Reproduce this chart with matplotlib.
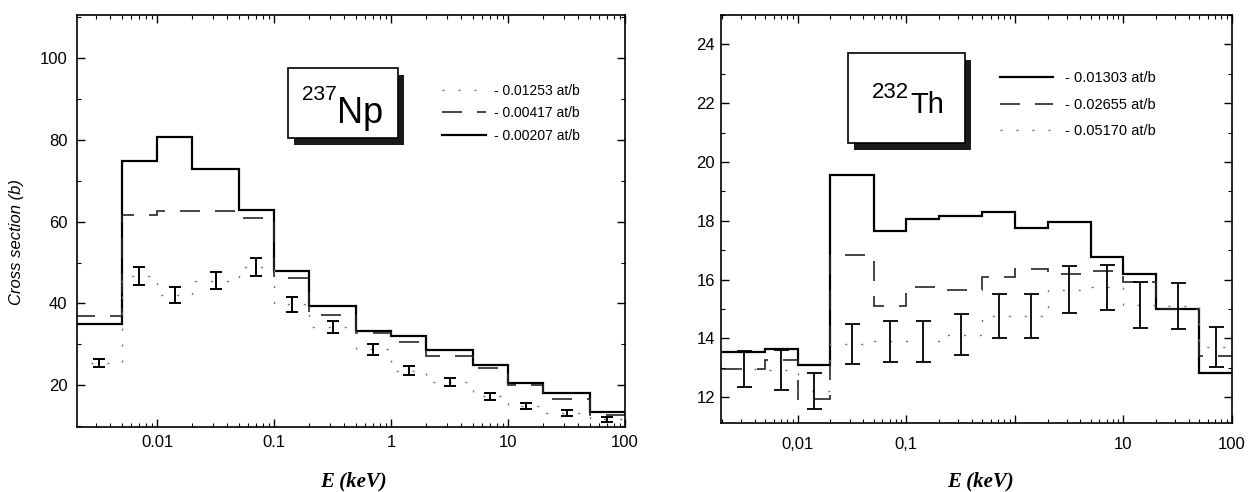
import numpy as np
import matplotlib
matplotlib.use("Agg")
import matplotlib.pyplot as plt
from matplotlib.lines import Line2D
from matplotlib.patches import Rectangle
from matplotlib.ticker import LogLocator, NullFormatter, FixedLocator, FixedFormatter, MultipleLocator

plt.rcParams['font.family'] = ['Liberation Sans', 'DejaVu Sans']

# energy group edges (keV), same for both samples
edges = [0.002, 0.005, 0.01, 0.02, 0.05, 0.1, 0.2, 0.5, 1, 2, 5, 10, 20, 50, 100]

# 237Np, cross section (b)
np_thin = [35.0, 74.7, 80.8, 72.9, 62.8, 48.0, 39.4, 33.2, 32.0, 28.5, 24.9, 20.6, 18.0, 13.5]    # 0.00207 at/b
np_mid = [37.0, 61.7, 62.6, 62.5, 61.0, 46.3, 37.2, 32.8, 30.6, 27.2, 24.2, 20.0, 16.6, 12.7]     # 0.00417 at/b
np_thick = [25.4, 46.6, 42.0, 45.6, 48.9, 39.8, 34.2, 28.8, 23.6, 20.8, 17.3, 15.0, 13.2, 11.7]   # 0.01253 at/b
np_err = [1.0, 2.2, 2.0, 2.0, 2.3, 1.8, 1.4, 1.3, 1.1, 1.0, 0.8, 0.7, 0.7, 0.6]

# 232Th, cross section (b)
th_thin = [13.55, 13.65, 13.1, 19.56, 17.64, 18.06, 18.15, 18.3, 17.77, 17.95, 16.76, 16.2, 15.0, 12.83]   # 0.01303 at/b
th_mid = [12.97, 13.26, 11.95, 16.85, 15.1, 15.74, 15.63, 16.08, 16.37, 16.2, 16.3, 15.93, 15.0, 13.4]     # 0.02655 at/b
th_thick = [12.95, 12.92, 12.2, 13.82, 13.9, 13.9, 14.13, 14.75, 14.75, 15.65, 15.73, 15.14, 15.1, 13.72]  # 0.05170 at/b
th_err = [0.62, 0.68, 0.62, 0.68, 0.7, 0.7, 0.7, 0.75, 0.75, 0.8, 0.78, 0.79, 0.77, 0.68]

np_labels = ["- 0.01253 at/b", "- 0.00417 at/b", "- 0.00207 at/b"]
th_labels = ["- 0.01303 at/b", "- 0.02655 at/b", "- 0.05170 at/b"]

centers = np.sqrt(np.array(edges[:-1]) * np.array(edges[1:]))

W, H = 1253, 492
fig = plt.figure(figsize=(W / 100, H / 100), dpi=100)

solid = dict(color="black", lw=1.6, linestyle="-")
dashed = dict(color="0.15", lw=1.2, linestyle=(0, (12, 9)))
dotted = dict(color="0.45", lw=1.0, linestyle=(0, (1.5, 10)))


def fx(x):
    return x / W


def fy(y):
    return 1 - y / H


def style_axes(ax, ypad, xpad):
    ax.set_xscale("log")
    ax.tick_params(which="both", direction="in", top=True, right=True, labelsize=12)
    ax.tick_params(which="major", length=6, width=1.0)
    ax.tick_params(which="minor", length=3, width=0.8)
    ax.tick_params(axis="y", pad=ypad)
    ax.tick_params(axis="x", pad=xpad)
    ax.xaxis.set_minor_locator(LogLocator(base=10, subs=range(2, 10)))
    ax.xaxis.set_minor_formatter(NullFormatter())
    for s in ax.spines.values():
        s.set_linewidth(1.2)


def label_box(x0, y0, x1, y1, sup, name, sup_xy, name_xy, sup_fs, name_fs):
    fig.add_artist(Rectangle((fx(x0 + 6), fy(y1 + 7)), fx(x1 - x0), (y1 - y0) / H,
                             transform=fig.transFigure, facecolor="0.1", edgecolor="none"))
    fig.add_artist(Rectangle((fx(x0), fy(y1)), fx(x1 - x0), (y1 - y0) / H,
                             transform=fig.transFigure, facecolor="white", edgecolor="black", lw=1.2))
    fig.text(fx(sup_xy[0]), fy(sup_xy[1]), sup, fontsize=sup_fs, va="baseline", ha="left")
    fig.text(fx(name_xy[0]), fy(name_xy[1]), name, fontsize=name_fs, va="baseline", ha="left")


# ---- left panel: 237Np
ax1 = fig.add_axes([fx(77), fy(427), fx(625 - 77), (427 - 15) / H])
ax1.stairs(np_thin, edges, baseline=None, **solid)
ax1.stairs(np_mid, edges, baseline=None, **dashed)
ax1.stairs(np_thick, edges, baseline=None, **dotted)
ax1.errorbar(centers, np_thick, yerr=np_err, fmt="none", ecolor="black",
             elinewidth=1.4, capsize=4, capthick=1.4)
ax1.set_xlim(0.00207, 100)
ax1.set_ylim(9.8, 110.5)
style_axes(ax1, ypad=7, xpad=5.5)
ax1.xaxis.set_major_locator(FixedLocator([0.01, 0.1, 1, 10, 100]))
ax1.xaxis.set_major_formatter(FixedFormatter(["0.01", "0.1", "1", "10", "100"]))
ax1.yaxis.set_major_locator(MultipleLocator(20))
ax1.yaxis.set_minor_locator(MultipleLocator(10))

h1 = [Line2D([], [], **dotted), Line2D([], [], **dashed), Line2D([], [], **solid)]
ax1.legend(h1, np_labels, loc="upper left", bbox_to_anchor=(fx(435), fy(77)),
           bbox_transform=fig.transFigure, frameon=False, fontsize=10, borderpad=0,
           handlelength=3.2, handletextpad=0.55, labelspacing=0.6)

label_box(288, 68, 398, 138, "237", "Np", (302, 100), (337, 123), 15, 26)

# ---- right panel: 232Th
ax2 = fig.add_axes([fx(721), fy(423), fx(1232 - 721), (423 - 15) / H])
ax2.stairs(th_thin, edges, baseline=None, **solid)
ax2.stairs(th_mid, edges, baseline=None, **dashed)
ax2.stairs(th_thick, edges, baseline=None, **dotted)
ax2.errorbar(centers, th_thick, yerr=th_err, fmt="none", ecolor="black",
             elinewidth=1.3, capsize=5.4, capthick=1.3)
ax2.set_xlim(0.00196, 100)
ax2.set_ylim(11.12, 25.0)
style_axes(ax2, ypad=4.3, xpad=10)
ax2.xaxis.set_major_locator(FixedLocator([0.01, 0.1, 1, 10, 100]))
ax2.xaxis.set_major_formatter(FixedFormatter(["0,01", "0,1", "", "10", "100"]))
ax2.yaxis.set_major_locator(MultipleLocator(2))
ax2.yaxis.set_minor_locator(MultipleLocator(1))

h2 = [Line2D([], [], **solid), Line2D([], [], **dashed), Line2D([], [], **dotted)]
ax2.legend(h2, th_labels, loc="upper left", bbox_to_anchor=(fx(993), fy(64)),
           bbox_transform=fig.transFigure, frameon=False, fontsize=10.5, borderpad=0,
           handlelength=3.6, handletextpad=0.85, labelspacing=0.85)

label_box(848, 53, 965, 143, "232", "Th", (872, 98), (910, 113), 16, 21)

# axis titles
fig.text(fx(17), fy(242), "Cross section (b)", rotation=90, fontsize=12, style="italic",
         ha="center", va="center")
for xc in (354, 981):
    fig.text(fx(xc), fy(481), "E (keV)", fontsize=15, family=["Liberation Serif", "DejaVu Serif"],
             weight="bold", style="italic", ha="center", va="center")

fig.savefig("out.png", dpi=100)
